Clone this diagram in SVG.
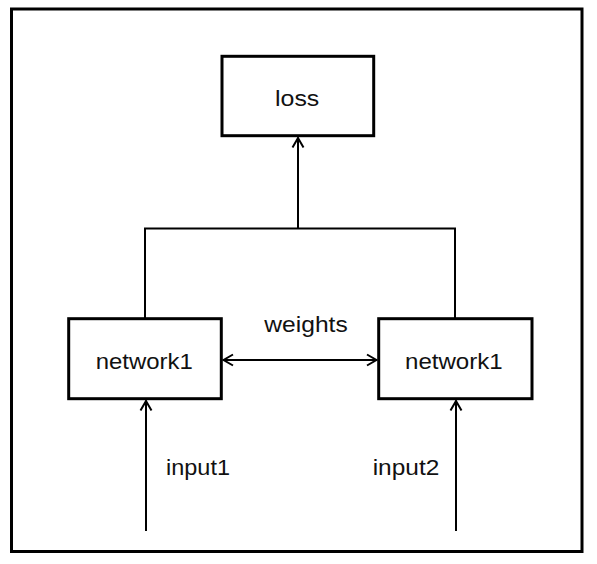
<svg xmlns="http://www.w3.org/2000/svg" width="597" height="564" viewBox="0 0 597 564">
  <style>
    .frame { fill: #ffffff; stroke: #000000; stroke-width: 3; }
    .box { fill: #ffffff; stroke: #000000; stroke-width: 3; }
    .label { font-family: "Liberation Sans", Arial, sans-serif; font-size: 22px; fill: #111111; }
    .conn { fill: none; stroke: #000000; stroke-width: 2; }
  </style>
  <defs>
    <marker id="chev" viewBox="0 0 12 14" refX="11" refY="7" markerWidth="12" markerHeight="14" markerUnits="userSpaceOnUse" orient="auto-start-reverse">
      <path d="M1,1.5 L10.5,7 L1,12.5" fill="none" stroke="#000000" stroke-width="2"/>
    </marker>
  </defs>
  <rect width="597" height="564" fill="#ffffff"/>
  <rect class="frame" x="11.5" y="9" width="570.5" height="542.5"/>

  <g id="connectors">
    <path class="conn" d="M145,318 L145,228.5 L455,228.5 L455,318"/>
    <path class="conn" d="M298,228.5 L298,137.5" marker-end="url(#chev)"/>
    <path class="conn" d="M223,360 L377,360" marker-start="url(#chev)" marker-end="url(#chev)"/>
    <path class="conn" d="M146,531 L146,400.5" marker-end="url(#chev)"/>
    <path class="conn" d="M456,531 L456,400.5" marker-end="url(#chev)"/>
  </g>

  <g id="loss">
    <rect class="box" x="222" y="56.3" width="151.7" height="79.4"/>
    <text class="label" x="275" y="105.5" textLength="44.3" lengthAdjust="spacingAndGlyphs">loss</text>
  </g>
  <g id="network1-left">
    <rect class="box" x="68.7" y="318.7" width="152.6" height="80"/>
    <text class="label" x="95.7" y="368.5" textLength="97" lengthAdjust="spacingAndGlyphs">network1</text>
  </g>
  <g id="network1-right">
    <rect class="box" x="378.7" y="318.7" width="153.3" height="80"/>
    <text class="label" x="405" y="368.5" textLength="97.7" lengthAdjust="spacingAndGlyphs">network1</text>
  </g>
  <g id="labels">
    <text class="label" x="264.3" y="331.5" textLength="83.4" lengthAdjust="spacingAndGlyphs">weights</text>
    <text class="label" x="166" y="474.5" textLength="64" lengthAdjust="spacingAndGlyphs">input1</text>
    <text class="label" x="372.7" y="474.5" textLength="66.6" lengthAdjust="spacingAndGlyphs">input2</text>
  </g>
</svg>
